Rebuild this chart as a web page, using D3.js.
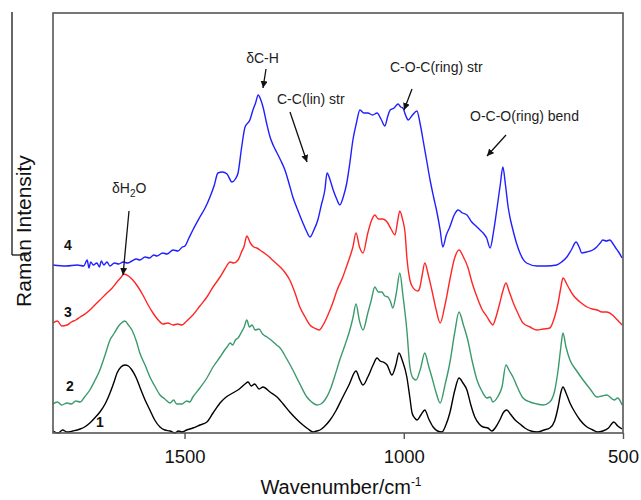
<!DOCTYPE html>
<html>
<head>
<meta charset="utf-8">
<script src="https://cdn.jsdelivr.net/npm/d3@7"></script>
<style>
  html, body { margin: 0; padding: 0; background: #fff; }
  svg { display: block; }
  text { font-family: "Liberation Sans", Arial, sans-serif; }
</style>
</head>
<body>
<svg id="chart" width="641" height="500"></svg>
<script>
// ---- Data (wavenumber cm-1, Raman intensity in arbitrary units) ----
const xTicks = [1500, 1000, 500];
const xDomain = [1800, 500];

const trace1 = [[1800,2],[1788,0],[1778,3],[1768,1],[1755,2],[1738,4],[1728,6],[1716,10],[1705,15],[1693,21],[1680,30],[1670,40],[1660,52],[1654,60],[1645,66],[1636,68],[1628,67],[1620,63],[1610,55],[1602,46],[1590,33],[1579,23],[1568,13],[1556,6],[1545,3],[1533,2],[1522,0],[1514,2],[1506,1],[1495,3],[1481,5],[1465,8],[1449,11],[1435,20],[1419,30],[1405,36],[1390,40],[1375,44],[1362,49],[1355,51],[1348,47],[1340,49],[1330,44],[1321,46],[1305,41],[1289,36],[1275,29],[1260,21],[1245,14],[1230,8],[1218,4],[1207,1],[1199,2],[1191,3],[1180,7],[1168,13],[1155,22],[1139,36],[1125,48],[1109,62],[1100,53],[1093,48],[1082,56],[1070,68],[1061,75],[1054,72],[1047,71],[1038,68],[1027,58],[1018,68],[1011,80],[1003,72],[993,56],[986,35],[981,20],[975,15],[970,13],[961,18],[952,23],[943,14],[933,6],[923,2],[913,1],[904,8],[895,20],[884,42],[874,55],[865,50],[856,43],[847,28],[838,16],[828,9],[819,6],[808,5],[799,2],[790,6],[781,13],[772,21],[765,23],[757,19],[746,13],[735,9],[724,5],[710,2],[696,1],[680,3],[667,5],[656,12],[648,26],[642,40],[637,46],[630,40],[621,30],[610,21],[598,13],[585,7],[569,3],[558,1],[546,2],[533,5],[521,11],[512,7],[502,4]];

const trace2 = [[1800,29],[1790,31],[1780,28],[1768,30],[1758,29],[1748,32],[1738,31],[1728,36],[1716,43],[1705,52],[1693,63],[1682,77],[1670,93],[1660,100],[1652,106],[1644,110],[1636,112],[1628,108],[1620,103],[1610,92],[1602,80],[1590,68],[1579,56],[1568,47],[1556,38],[1545,34],[1533,30],[1525,33],[1518,29],[1506,29],[1495,32],[1488,31],[1481,36],[1465,45],[1449,55],[1435,66],[1419,76],[1410,82],[1403,86],[1396,90],[1390,88],[1384,93],[1378,95],[1370,101],[1364,106],[1358,113],[1352,106],[1346,108],[1339,103],[1330,104],[1322,99],[1312,96],[1300,92],[1290,88],[1282,85],[1268,75],[1253,63],[1237,49],[1221,36],[1210,31],[1198,28],[1189,29],[1180,33],[1168,43],[1158,56],[1146,73],[1134,88],[1123,103],[1116,115],[1109,129],[1101,112],[1093,103],[1082,120],[1074,133],[1066,146],[1058,141],[1050,141],[1043,137],[1036,136],[1030,131],[1025,125],[1017,140],[1009,160],[1002,138],[993,103],[986,66],[979,55],[972,53],[962,64],[952,80],[944,68],[936,56],[926,40],[917,30],[906,48],[895,70],[884,100],[874,121],[864,108],[854,93],[844,72],[833,53],[822,42],[810,35],[803,36],[797,31],[786,36],[776,46],[767,68],[759,62],[751,56],[740,45],[728,35],[712,31],[696,29],[682,28],[667,31],[656,42],[648,63],[642,85],[637,100],[630,86],[621,73],[607,63],[591,53],[575,44],[559,36],[548,37],[537,38],[520,33],[512,35],[502,28]];

const trace3 = [[1800,110],[1790,112],[1780,107],[1768,108],[1758,111],[1748,113],[1738,116],[1724,120],[1709,126],[1693,133],[1677,140],[1665,145],[1654,151],[1646,155],[1638,159],[1628,157],[1618,153],[1606,146],[1595,138],[1583,128],[1572,120],[1560,113],[1549,109],[1538,110],[1526,108],[1516,109],[1506,108],[1495,112],[1481,118],[1465,127],[1449,136],[1435,146],[1419,156],[1408,164],[1396,171],[1388,170],[1378,173],[1370,181],[1364,187],[1358,197],[1350,190],[1342,186],[1335,185],[1325,182],[1312,178],[1297,172],[1282,166],[1270,160],[1260,153],[1248,140],[1237,126],[1225,116],[1214,108],[1204,105],[1193,103],[1184,108],[1173,118],[1162,130],[1152,143],[1139,156],[1131,166],[1123,176],[1116,186],[1109,200],[1101,186],[1093,180],[1082,200],[1074,212],[1066,218],[1058,214],[1048,214],[1038,211],[1029,204],[1020,198],[1014,212],[1009,222],[1003,214],[997,200],[993,176],[986,153],[980,146],[974,143],[968,142],[963,146],[958,158],[952,170],[944,158],[936,143],[926,123],[917,110],[906,128],[895,153],[884,175],[874,183],[864,176],[854,166],[844,150],[833,136],[822,124],[810,116],[803,111],[797,108],[789,117],[781,130],[774,142],[767,150],[760,142],[751,131],[740,120],[728,110],[712,106],[696,103],[682,104],[667,105],[656,116],[648,130],[642,145],[637,155],[626,147],[614,138],[598,131],[582,126],[570,124],[559,123],[548,121],[537,121],[524,118],[515,114],[502,108]];

const trace4 = [[1800,168],[1770,167],[1745,168],[1730,167],[1722,173],[1718,165],[1714,171],[1708,168],[1700,170],[1694,166],[1690,172],[1684,168],[1677,171],[1670,167],[1660,170],[1650,169],[1640,171],[1630,170],[1620,172],[1610,174],[1602,173],[1590,176],[1580,175],[1570,178],[1563,177],[1550,180],[1540,179],[1526,183],[1515,182],[1505,186],[1499,187],[1490,195],[1481,203],[1465,216],[1452,226],[1442,236],[1432,248],[1424,260],[1414,261],[1403,259],[1392,251],[1384,254],[1378,260],[1370,285],[1362,306],[1351,313],[1344,323],[1338,330],[1332,338],[1326,333],[1321,326],[1313,310],[1305,296],[1297,287],[1289,280],[1280,272],[1271,263],[1262,250],[1253,236],[1241,222],[1230,210],[1222,202],[1214,196],[1205,203],[1196,213],[1188,228],[1180,243],[1175,260],[1168,253],[1161,243],[1153,234],[1146,228],[1138,236],[1130,250],[1123,270],[1116,293],[1108,310],[1100,323],[1091,320],[1082,320],[1071,318],[1061,320],[1052,314],[1043,307],[1037,316],[1031,323],[1022,325],[1013,329],[1007,326],[1002,325],[996,318],[990,313],[980,318],[970,322],[963,310],[956,293],[948,273],[940,253],[932,236],[924,220],[917,203],[911,186],[903,198],[895,206],[885,218],[876,223],[866,220],[856,218],[845,211],[833,206],[826,203],[819,200],[811,195],[803,185],[795,202],[787,226],[780,248],[774,266],[768,248],[762,226],[756,212],[751,203],[743,190],[735,180],[720,170],[696,167],[675,167],[651,168],[640,171],[628,176],[618,183],[607,191],[600,186],[594,180],[583,181],[569,183],[560,186],[552,190],[546,193],[538,192],[530,193],[524,190],[518,186],[510,181],[502,175]];

const seriesNames = ["1", "2", "3", "4"];
const seriesColors = ["#000000", "#3a9a6c", "#ff2626", "#1f1fff"];
const seriesData = [trace1, trace2, trace3, trace4];

// ---- Layout ----
const svg = d3.select("#chart");
const plot = { left: 53, right: 623, top: 13, bottom: 433 };

const x = d3.scaleLinear().domain(xDomain).range([plot.left, plot.right]);
const y = d3.scaleLinear().domain([0, 420]).range([plot.bottom, plot.top]);

// stray lines at left edge of the original figure
svg.append("line").attr("x1", 12).attr("x2", 12).attr("y1", 12).attr("y2", 255)
  .attr("stroke", "#000").attr("stroke-width", 1.2);
svg.append("line").attr("x1", 12).attr("x2", 27).attr("y1", 255).attr("y2", 255)
  .attr("stroke", "#000").attr("stroke-width", 1.2);

// traces
const line = d3.line()
  .x(d => x(d[0]))
  .y(d => y(d[1]))
  .curve(d3.curveMonotoneX);

seriesData.forEach((s, i) => {
  svg.append("path")
    .datum(s)
    .attr("fill", "none")
    .attr("stroke", seriesColors[i])
    .attr("stroke-width", 1.4)
    .attr("stroke-linejoin", "round")
    .attr("d", line);
});

// frame
svg.append("rect")
  .attr("x", plot.left).attr("y", plot.top)
  .attr("width", plot.right - plot.left).attr("height", plot.bottom - plot.top)
  .attr("fill", "none").attr("stroke", "#555").attr("stroke-width", 1.6);

// x axis
const xAxis = d3.axisBottom(x).tickValues(xTicks).tickFormat(d3.format("d"))
  .tickSize(6).tickSizeOuter(0).tickPadding(11);
const gx = svg.append("g").attr("transform", `translate(0,${plot.bottom})`).call(xAxis);
gx.select(".domain").remove();
gx.selectAll(".tick line").attr("stroke", "#555").attr("stroke-width", 1.4);
gx.selectAll(".tick text")
  .attr("fill", "#111")
  .style("font-size", "18.5px")
  .style("font-family", "'Liberation Sans', Arial, sans-serif");

// axis titles
const xt = svg.append("text").attr("x", 341).attr("y", 494)
  .attr("text-anchor", "middle").style("font-size", "20px").attr("fill", "#111");
xt.append("tspan").text("Wavenumber/cm");
xt.append("tspan").attr("dy", -8).style("font-size", "12px").text("-1");

svg.append("text")
  .attr("transform", "translate(31,231) rotate(-90)")
  .attr("text-anchor", "middle")
  .style("font-size", "21px").attr("fill", "#111")
  .text("Raman  Intensity");

// series number labels
const numLabels = [
  { t: "4", x: 68, y: 250 },
  { t: "3", x: 68, y: 317 },
  { t: "2", x: 70, y: 391 },
  { t: "1", x: 100, y: 427 }
];
numLabels.forEach(l => {
  svg.append("text").attr("x", l.x).attr("y", l.y).attr("text-anchor", "middle")
    .style("font-size", "14px").style("font-weight", "bold").attr("fill", "#111").text(l.t);
});

// annotations
const defs = svg.append("defs");
defs.append("marker").attr("id", "arr").attr("viewBox", "0 0 10 10")
  .attr("refX", 10).attr("refY", 5).attr("markerWidth", 7).attr("markerHeight", 7)
  .attr("markerUnits", "userSpaceOnUse").attr("orient", "auto")
  .append("path").attr("d", "M0,0 L10,5 L0,10 Z").attr("fill", "#111");

const arrows = [
  [266, 69, 263, 88],
  [290, 112, 307, 162],
  [412, 89, 404, 110],
  [506, 135, 487, 156],
  [129, 211, 123, 275]
];
arrows.forEach(a => {
  svg.append("line").attr("x1", a[0]).attr("y1", a[1]).attr("x2", a[2]).attr("y2", a[3])
    .attr("stroke", "#111").attr("stroke-width", 1.3).attr("marker-end", "url(#arr)");
});

const annFont = "14px";
svg.append("text").attr("x", 262.5).attr("y", 63).attr("text-anchor", "middle")
  .style("font-size", annFont).attr("fill", "#222").text("δC-H");
svg.append("text").attr("x", 277).attr("y", 104)
  .style("font-size", annFont).attr("fill", "#222").text("C-C(lin) str");
svg.append("text").attr("x", 390).attr("y", 72)
  .style("font-size", annFont).attr("fill", "#222").text("C-O-C(ring) str");
svg.append("text").attr("x", 470).attr("y", 121)
  .style("font-size", annFont).attr("fill", "#222").text("O-C-O(ring) bend");
const h2o = svg.append("text").attr("x", 112).attr("y", 193)
  .style("font-size", annFont).attr("fill", "#222");
h2o.append("tspan").text("δH");
h2o.append("tspan").attr("dy", 4).style("font-size", "10px").text("2");
h2o.append("tspan").attr("dy", -4).text("O");
</script>
</body>
</html>
